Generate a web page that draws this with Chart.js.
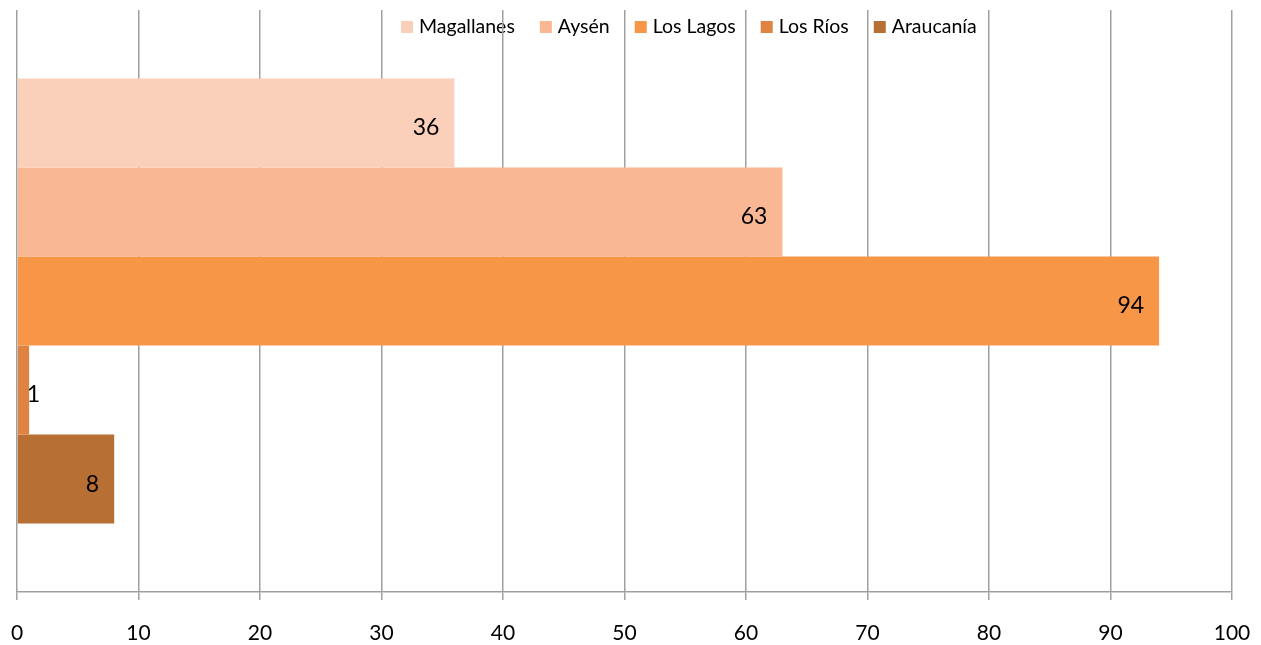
<!DOCTYPE html>
<html><head><meta charset="utf-8">
<script src="https://cdn.jsdelivr.net/npm/chart.js@4/dist/chart.umd.min.js"></script>
<style>html,body{margin:0;padding:0;background:#fff}#wrap{width:1261px;height:645px}</style>
</head><body><div id="wrap"><canvas id="c" width="1261" height="645"></canvas></div>
<script>
const categories = [''];
const seriesNames = ['Magallanes', 'Aysén', 'Los Lagos', 'Los Ríos', 'Araucanía'];
const seriesValues = [[36], [63], [94], [1], [8]];
const seriesColors = ['#FBD0BA', '#F9B794', '#F79646', '#DE8341', '#B86F34'];
const xTicks = [0, 10, 20, 30, 40, 50, 60, 70, 80, 90, 100];

const FONT = 'Lato, "Open Sans", sans-serif';

const legendPlugin = {
  id: 'topLegend',
  beforeDraw(chart) {
    const ctx = chart.ctx;
    ctx.save();
    ctx.font = '19.5px ' + FONT;
    ctx.textBaseline = 'middle';
    let x = 401;
    const y = 27;
    chart.data.datasets.forEach(ds => {
      ctx.fillStyle = ds.backgroundColor;
      ctx.fillRect(x, y - 6, 12, 12);
      ctx.fillStyle = '#000';
      ctx.textAlign = 'left';
      ctx.fillText(ds.label, x + 18, y);
      x += 18 + ctx.measureText(ds.label).width + 25;
    });
    ctx.restore();
  }
};

const labelPlugin = {
  id: 'barLabels',
  afterDatasetsDraw(chart) {
    const ctx = chart.ctx;
    ctx.save();
    ctx.font = '23px ' + FONT;
    ctx.fillStyle = '#000';
    ctx.textBaseline = 'middle';
    ctx.textAlign = 'right';
    chart.data.datasets.forEach((ds, i) => {
      const meta = chart.getDatasetMeta(i);
      meta.data.forEach((bar, j) => {
        const txt = String(ds.data[j]);
        const w = ctx.measureText(txt).width;
        let right = bar.x - 15;
        const minRight = bar.base + w + 9;
        if (right < minRight) right = minRight;
        ctx.fillText(txt, right, bar.y + 5);
      });
    });
    ctx.restore();
  }
};

new Chart(document.getElementById('c'), {
  type: 'bar',
  data: {
    labels: categories,
    datasets: seriesNames.map((n, i) => ({
      label: n,
      data: seriesValues[i],
      backgroundColor: seriesColors[i],
      borderWidth: 0,
      barPercentage: 1,
      categoryPercentage: 0.765
    }))
  },
  options: {
    indexAxis: 'y',
    responsive: false,
    animation: false,
    layout: { padding: { left: 17, right: 29, top: 10, bottom: 0 } },
    plugins: { legend: { display: false }, tooltip: { enabled: false } },
    scales: {
      x: {
        min: 0, max: 100,
        afterBuildTicks(axis) { axis.ticks = xTicks.map(v => ({ value: v })); },
        afterFit(scale) { scale.height = 53; scale.paddingLeft = 0; scale.paddingRight = 0; },
        grid: { color: '#A0A0A0', lineWidth: 1.5, tickLength: 8, drawTicks: true },
        border: { color: '#A0A0A0', width: 1.5 },
        ticks: { color: '#000', font: { family: FONT, size: 21 }, padding: 21, maxRotation: 0 }
      },
      y: { display: false }
    }
  },
  plugins: [legendPlugin, labelPlugin]
});
</script></body></html>
